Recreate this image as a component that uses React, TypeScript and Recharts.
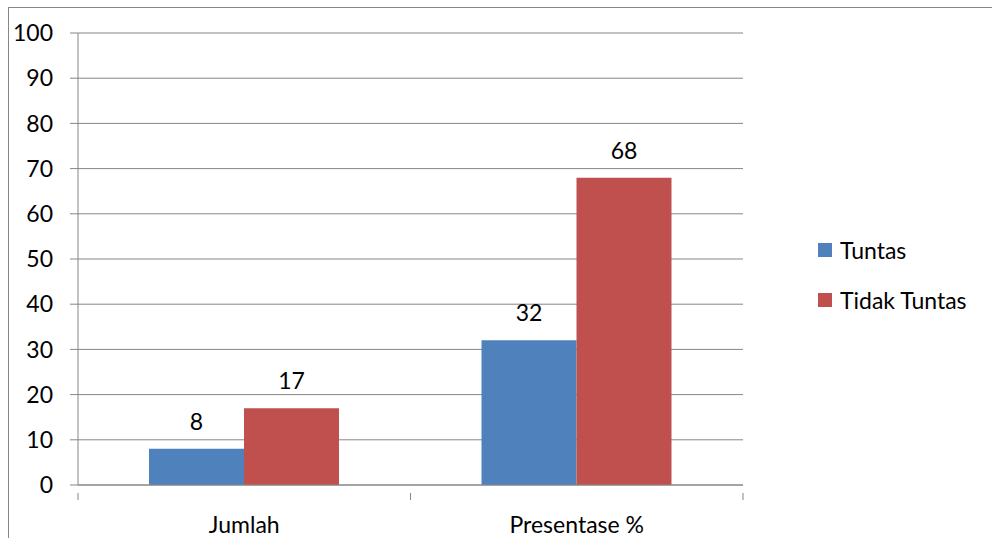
import { BarChart, Bar, XAxis, YAxis, CartesianGrid, LabelList } from "recharts";

const categories = ["Jumlah", "Presentase %"];
const tuntas = [8, 32];
const tidakTuntas = [17, 68];
const yTicks = [0, 10, 20, 30, 40, 50, 60, 70, 80, 90, 100];

const data = categories.map((name, i) => ({ name, tuntas: tuntas[i], tidak: tidakTuntas[i] }));

const FONT = "Lato, 'Open Sans', sans-serif";
const FS = 23;
const GRID = "#868686";
const BLUE = "#4F81BD";
const RED = "#C0504D";

// category label in the middle, tick marks on the band edges
const CatTick = (props: any) => {
  const { x, y, payload } = props;
  const half = payload?.offset ?? 166;
  return (
    <g>
      <line x1={x - half} x2={x - half} y1={y} y2={y + 7} stroke={GRID} />
      <line x1={x + half} x2={x + half} y1={y} y2={y + 7} stroke={GRID} />
      <text x={x} y={y + 40} textAnchor="middle" fill="#000" fontSize={FS} fontFamily={FONT}>
        {payload.value}
      </text>
    </g>
  );
};

const legendItems = [
  { c: BLUE, t: "Tuntas" },
  { c: RED, t: "Tidak Tuntas" },
];

export default function App() {
  return (
    <div style={{ position: "absolute", left: 0, top: 0, width: 992, height: 538, background: "#fff", overflow: "hidden" }}>
      <div style={{ position: "absolute", left: 8, top: 7, width: 1000, height: 600, border: `1px solid ${GRID}` }} />
      <div style={{ position: "absolute", left: 0, top: 0 }}>
        <BarChart
          width={992}
          height={538}
          data={data}
          margin={{ top: 33, right: 249, bottom: 0, left: 0 }}
          barGap={0}
          barSize={95}
        >
          <CartesianGrid vertical={false} stroke={GRID} />
          <XAxis
            dataKey="name"
            axisLine={{ stroke: GRID }}
            tickLine={false}
            tick={<CatTick />}
            height={53}
            interval={0}
          />
          <YAxis
            domain={[0, 100]}
            ticks={yTicks}
            width={78}
            axisLine={{ stroke: GRID }}
            tickLine={{ stroke: GRID }}
            tickSize={8}
            tickMargin={17}
            tick={{ fill: "#000", fontSize: FS, fontFamily: FONT }}
            interval={0}
          />
          <Bar dataKey="tuntas" name="Tuntas" fill={BLUE} isAnimationActive={false}>
            <LabelList dataKey="tuntas" position="top" offset={19} fill="#000" fontSize={FS} fontFamily={FONT} />
          </Bar>
          <Bar dataKey="tidak" name="Tidak Tuntas" fill={RED} isAnimationActive={false}>
            <LabelList dataKey="tidak" position="top" offset={19} fill="#000" fontSize={FS} fontFamily={FONT} />
          </Bar>
        </BarChart>
      </div>
      <div style={{ position: "absolute", left: 818, top: 225, fontFamily: FONT, fontSize: FS, color: "#000" }}>
        {legendItems.map((it) => (
          <div key={it.t} style={{ display: "flex", alignItems: "center", height: 50 }}>
            <span style={{ width: 14, height: 14, background: it.c, display: "inline-block", marginRight: 8 }} />
            <span>{it.t}</span>
          </div>
        ))}
      </div>
    </div>
  );
}
